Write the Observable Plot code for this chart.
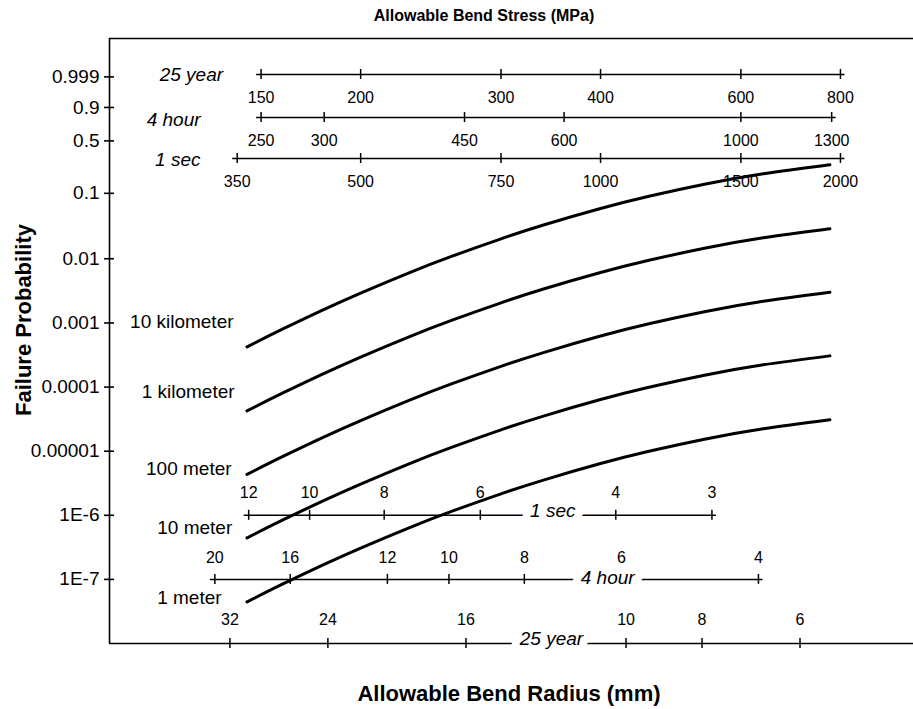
<!DOCTYPE html>
<html>
<head>
<meta charset="utf-8">
<script src="https://cdn.jsdelivr.net/npm/d3@7"></script>
<script src="https://cdn.jsdelivr.net/npm/@observablehq/plot@0.6"></script>
<style>
  html, body { margin: 0; padding: 0; background: #fff; }
</style>
</head>
<body>
<div id="chart"></div>
<script>
// ---------------- data ----------------
// equivalent 1-second bend stress (MPa) at which the curves were sampled
const stress = [360, 400, 450, 500, 575, 650, 750, 850, 1000, 1150, 1350, 1600, 1940];
// failure probability for each fibre length
const f10km = [4.230e-4, 8.137e-4, 1.630e-3, 2.928e-3, 6.049e-3, 0.010874, 0.020357, 0.03344, 0.05918, 0.09031, 0.13576, 0.19135, 0.25410];
const f1km  = [4.247e-5, 8.171e-5, 1.6374e-4, 2.9432e-4, 6.087e-4, 1.0967e-3, 2.0620e-3, 3.4074e-3, 6.103e-3, 9.454e-3, 0.014537, 0.021089, 0.028991];
const f100m = [4.340e-6, 8.350e-6, 1.6731e-5, 3.0078e-5, 6.222e-5, 1.1213e-4, 2.1089e-4, 3.4871e-4, 6.2536e-4, 9.7017e-4, 1.4952e-3, 2.1756e-3, 3.0017e-3];
const f10m  = [4.434e-7, 8.531e-7, 1.7095e-6, 3.0732e-6, 6.357e-6, 1.1457e-5, 2.1550e-5, 3.5636e-5, 6.3914e-5, 9.9169e-5, 1.5288e-4, 2.2251e-4, 3.0710e-4];
const f1m   = [4.450e-8, 8.562e-8, 1.7157e-7, 3.0844e-7, 6.380e-7, 1.1498e-6, 2.1628e-6, 3.5765e-6, 6.4148e-6, 9.9534e-6, 1.5344e-5, 2.2334e-5, 3.0827e-5];
const lengths = ["10 kilometer", "1 kilometer", "100 meter", "10 meter", "1 meter"];

// y tick values and labels
const probTicks  = [0.999, 0.9, 0.5, 0.1, 0.01, 0.001, 0.0001, 0.00001, 1e-6, 1e-7];
const probLabels = ["0.999", "0.9", "0.5", "0.1", "0.01", "0.001", "0.0001", "0.00001", "1E-6", "1E-7"];

// stress scales (MPa) at the top
const stress25y = [150, 200, 300, 400, 600, 800];
const stress4h  = [250, 300, 450, 600, 1000, 1300];
const stress1s  = [350, 500, 750, 1000, 1500, 2000];
// bend radius scales (mm) at the bottom
const radius1s  = [12, 10, 8, 6, 4, 3];
const radius4h  = [20, 16, 12, 10, 8, 6, 4];
const radius25y = [32, 24, 16, 10, 8, 6];

// ---------------- helpers ----------------
const weib = F => Math.log10(-Math.log1p(-F));   // Weibull probability paper
const xDomain = [242, 2470];
const yDomain = [-8, 1.438];
const FONT = "Liberation Sans, Arial, Helvetica, sans-serif";
const LW = 1.5;

const series = [f10km, f1km, f100m, f10m, f1m];

// top rows: tick value -> equivalent 1 s stress via factor
const topRows = [
  {name: "25 year", ticks: stress25y, factor: 2.5, w: 0.877, labelDx: -38, labelDy: 0},
  {name: "4 hour",  ticks: stress4h,  factor: 1.5, w: 0.206, labelDx: -60.5, labelDy: 2},
  {name: "1 sec",   ticks: stress1s,  factor: 1.0, w: -0.434, labelDx: -36.7, labelDy: 1.5}
];
// bottom rows: radius -> equivalent 1 s stress
const bottomRows = [
  {name: "1 sec",   ticks: radius1s,  r0: 12, s0: 361.8, p: 0.9655, w: -6, labelR: 4.83,  labelDy: -4.5, tickDy: -22, line: true},
  {name: "4 hour",  ticks: radius4h,  r0: 20, s0: 328.1, p: 0.9759, w: -7, labelR: 6.25,  labelDy: -1.5, tickDy: -21.5, line: true},
  {name: "25 year", ticks: radius25y, r0: 32, s0: 342.7, p: 0.984,  w: -8, labelR: 12.45, labelDy: -4.5, tickDy: -24, line: false}
];
const toS = (r, R) => r.s0 * Math.pow(r.r0 / R, r.p);

// ---------------- marks ----------------
const marks = [];

// frame (left, top, bottom)
marks.push(Plot.ruleX([xDomain[0]], {stroke: "#000", strokeWidth: 1.6}));
marks.push(Plot.ruleY([yDomain[1], yDomain[0]], {stroke: "#000", strokeWidth: 1.6}));

// y axis: crossing ticks and labels
const tickW = probTicks.map(weib);
marks.push(Plot.ruleY(tickW, {y: d => d, x1: xDomain[0], x2: xDomain[0], insetLeft: -5, insetRight: -5, stroke: "#000", strokeWidth: 1.6}));
marks.push(Plot.text(tickW, {y: d => d, frameAnchor: "left", text: (d, i) => probLabels[i],
  textAnchor: "end", lineAnchor: "middle", dx: -10, fontSize: 19}));

// top stress rows
for (const r of topRows) {
  const xs = r.ticks.map(v => v * r.factor);
  marks.push(Plot.ruleY([r.w], {y: d => d, x1: xs[0], x2: xs[xs.length - 1], insetLeft: -4.5, insetRight: -4.5, stroke: "#000", strokeWidth: LW}));
  marks.push(Plot.ruleX(r.ticks, {x: v => v * r.factor, y1: r.w, y2: r.w, insetTop: -5, insetBottom: -5, stroke: "#000", strokeWidth: LW}));
  marks.push(Plot.text(r.ticks, {x: v => v * r.factor, y: r.w, text: v => String(v), dy: 23, fontSize: 16, lineAnchor: "middle"}));
  marks.push(Plot.text([r.name], {x: xs[0], y: r.w, text: d => d, dx: r.labelDx, dy: r.labelDy,
    textAnchor: "end", lineAnchor: "middle", fontStyle: "italic", fontSize: 19}));
}

// bottom radius rows
for (const r of bottomRows) {
  const xs = r.ticks.map(R => toS(r, R));
  if (r.line) {
    marks.push(Plot.ruleY([r.w], {y: d => d, x1: xs[0], x2: xs[xs.length - 1], insetLeft: -4.5, insetRight: -4.5, stroke: "#000", strokeWidth: LW}));
  }
  marks.push(Plot.ruleX(r.ticks, {x: R => toS(r, R), y1: r.w, y2: r.w, insetTop: -5, insetBottom: -5, stroke: "#000", strokeWidth: LW}));
  // label with white knock-out behind it
  const lx = toS(r, r.labelR);
  marks.push(Plot.text([r.name], {x: lx, y: r.w, text: d => d, dy: r.labelDy, fontStyle: "italic", fontSize: 19,
    lineAnchor: "middle", fill: "#fff", stroke: "#fff", strokeWidth: 16, strokeLinejoin: "round"}));
  marks.push(Plot.text([r.name], {x: lx, y: r.w, text: d => d, dy: r.labelDy, fontStyle: "italic", fontSize: 19,
    lineAnchor: "middle", fill: "#000"}));
  marks.push(Plot.text(r.ticks, {x: R => toS(r, R), y: r.w, text: R => String(R), dy: r.tickDy, fontSize: 16, lineAnchor: "middle"}));
}

// failure probability curves
series.forEach(F => {
  marks.push(Plot.line(stress, {x: d => d, y: (d, i) => weib(F[i]), curve: "natural", stroke: "#000", strokeWidth: 3}));
});

// curve labels (anchored to first point of each curve)
const labelOffsets = [[-13.4, -24.7], [-12.4, -18.7], [-15.4, -6], [-14.7, -10.3], [-25.4, -4.3]];
lengths.forEach((name, k) => {
  marks.push(Plot.text([name], {x: stress[0], y: weib(series[k][0]), text: d => d,
    dx: labelOffsets[k][0], dy: labelOffsets[k][1], textAnchor: "end", lineAnchor: "middle", fontSize: 19}));
});

// titles
marks.push(Plot.text(["Allowable Bend Stress (MPa)"], {frameAnchor: "top", text: d => d, dx: -27.5, dy: -23,
  textAnchor: "middle", lineAnchor: "middle", fontWeight: "bold", fontSize: 16}));
marks.push(Plot.text(["Allowable Bend Radius (mm)"], {frameAnchor: "bottom", text: d => d, dx: -2.5, dy: 50,
  textAnchor: "middle", lineAnchor: "middle", fontWeight: "bold", fontSize: 22}));
marks.push(Plot.text(["Failure Probability"], {frameAnchor: "left", text: d => d, dx: -86, dy: -21, rotate: -90,
  textAnchor: "middle", lineAnchor: "middle", fontWeight: "bold", fontSize: 22}));

const chart = Plot.plot({
  width: 913,
  height: 709,
  marginLeft: 109,
  marginRight: 0,
  marginTop: 38,
  marginBottom: 66,
  x: {type: "log", domain: xDomain, axis: null},
  y: {type: "linear", domain: yDomain, axis: null},
  style: {fontFamily: FONT, color: "#000", background: "#fff", overflow: "visible"},
  marks
});
document.getElementById("chart").appendChild(chart);
</script>
</body>
</html>
